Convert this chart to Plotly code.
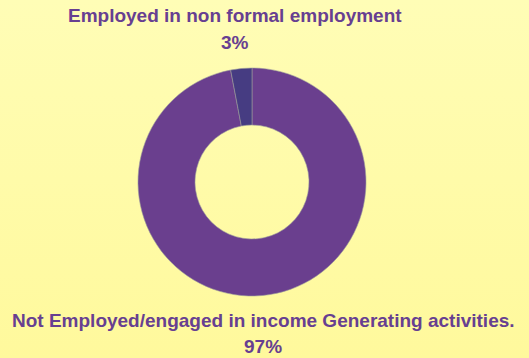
import base64
import plotly.graph_objects as go

# Employment status shares (percent)
categories = ["Employed in non formal employment",
              "Not Employed/engaged in income Generating activities."]
shares = [3, 97]
slice_colors = ["#463c82", "#6a3f8e"]
text_color = "#673f91"

W, H = 529, 358

# Soft vertical yellow gradient used as the page background
svg = (
    f'<svg xmlns="http://www.w3.org/2000/svg" width="{W}" height="{H}">'
    '<defs><linearGradient id="g" x1="0" y1="0" x2="0" y2="1">'
    '<stop offset="0" stop-color="#fffdb6"/>'
    '<stop offset="1" stop-color="#fff99c"/>'
    '</linearGradient></defs>'
    f'<rect width="{W}" height="{H}" fill="url(#g)"/></svg>'
)
bg_uri = "data:image/svg+xml;base64," + base64.b64encode(svg.encode()).decode()

# Drawn clockwise from 12 o'clock, so the small share ends just left of the top
fig = go.Figure(
    go.Pie(
        labels=categories[::-1],
        values=shares[::-1],
        hole=0.5,
        sort=False,
        direction="clockwise",
        rotation=0,
        marker=dict(colors=slice_colors[::-1],
                    line=dict(color="#9a9a9a", width=0.6)),
        textinfo="none",
        showlegend=False,
        domain=dict(x=[(252 - 114) / W, (252 + 114) / W],
                    y=[1 - (182 + 114) / H, 1 - (182 - 114) / H]),
    )
)

total = sum(shares)
label_pos = [(235, 15, 42), (263, 320, 346)]
for name, val, (cx, y1, y2) in zip(categories, shares, label_pos):
    pct = f"{round(100 * val / total)}%"
    for txt, yy in ((name, y1), (pct, y2)):
        fig.add_annotation(
            text=f"<b>{txt}</b>", x=cx / W, y=1 - yy / H,
            xref="paper", yref="paper", xanchor="center", yanchor="middle",
            showarrow=False,
            font=dict(family="Liberation Sans, Arial, sans-serif", size=19,
                      color=text_color),
        )

fig.add_layout_image(
    source=bg_uri, xref="paper", yref="paper", x=0, y=1,
    sizex=1, sizey=1, sizing="stretch", layer="below",
    xanchor="left", yanchor="top",
)

fig.update_layout(
    width=W, height=H,
    margin=dict(l=0, r=0, t=0, b=0),
    paper_bgcolor="#fffba8",
    plot_bgcolor="rgba(0,0,0,0)",
)

fig.write_html("out.html")
